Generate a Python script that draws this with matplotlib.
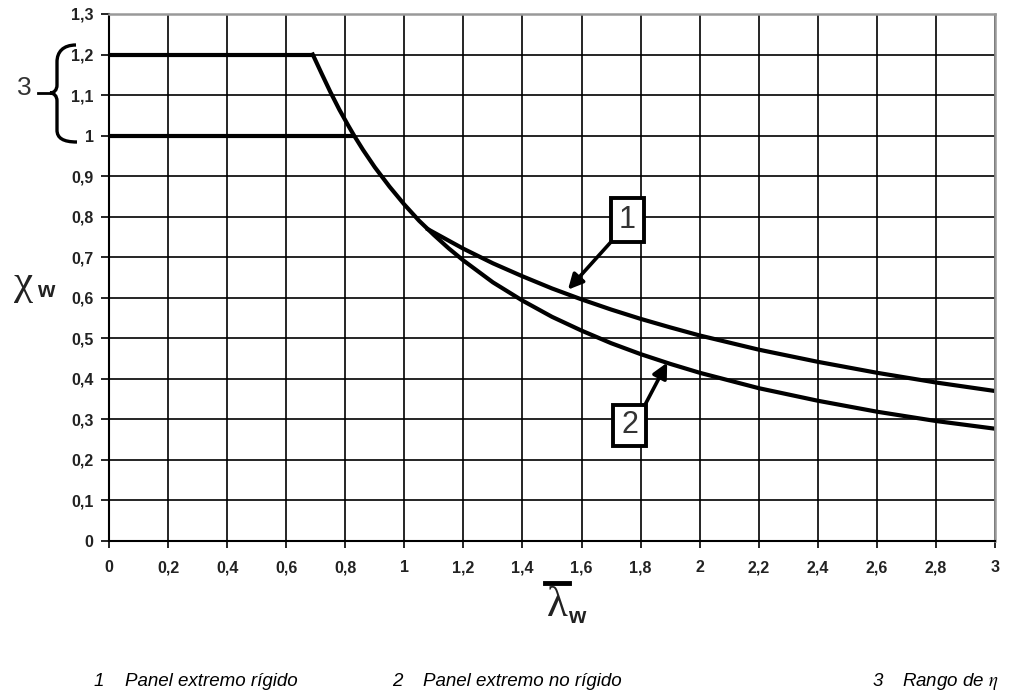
import matplotlib
matplotlib.use("Agg")
import matplotlib.pyplot as plt
from matplotlib.path import Path
from matplotlib.patches import PathPatch, Rectangle
from matplotlib.lines import Line2D

# ---- data ----
lam_eta = [0.0, 0.69]          # plateau chi = 1.2 (eta = 1.2)
chi_eta = [1.2, 1.2]
lam_one = [0.0, 0.83]          # plateau chi = 1.0
chi_one = [1.0, 1.0]

# curve 2: non-rigid end post
lam2 = [0.69, 0.72, 0.75, 0.78, 0.81, 0.83, 0.86, 0.90, 0.95, 1.00, 1.05, 1.10, 1.15,
        1.20, 1.30, 1.40, 1.50, 1.60, 1.70, 1.80, 1.90, 2.00, 2.20, 2.40, 2.60, 2.80, 3.00]
chi2 = [1.200, 1.153, 1.107, 1.064, 1.025, 1.000, 0.965, 0.922, 0.874, 0.830, 0.790, 0.755,
        0.722, 0.692, 0.638, 0.593, 0.553, 0.519, 0.488, 0.461, 0.437, 0.415, 0.377, 0.346,
        0.319, 0.296, 0.277]

# curve 1: rigid end post
lam1 = [1.08, 1.15, 1.20, 1.30, 1.40, 1.50, 1.60, 1.70, 1.80, 1.90, 2.00, 2.20, 2.40,
        2.60, 2.80, 3.00]
chi1 = [0.769, 0.741, 0.721, 0.685, 0.653, 0.623, 0.596, 0.571, 0.548, 0.527, 0.507,
        0.472, 0.442, 0.415, 0.391, 0.370]

xticks = [0, 0.2, 0.4, 0.6, 0.8, 1.0, 1.2, 1.4, 1.6, 1.8, 2.0, 2.2, 2.4, 2.6, 2.8, 3.0]
xticklabels = ["0", "0,2", "0,4", "0,6", "0,8", "1", "1,2", "1,4", "1,6", "1,8", "2",
               "2,2", "2,4", "2,6", "2,8", "3"]
yticks = [0, 0.1, 0.2, 0.3, 0.4, 0.5, 0.6, 0.7, 0.8, 0.9, 1.0, 1.1, 1.2, 1.3]
yticklabels = ["0", "0,1", "0,2", "0,3", "0,4", "0,5", "0,6", "0,7", "0,8", "0,9", "1",
               "1,1", "1,2", "1,3"]

legend_nums = ["1", "2", "3"]
legend_texts = ["Panel extremo rígido", "Panel extremo no rígido", r"Rango de $\eta$"]

W, H = 1026, 691
fig = plt.figure(figsize=(W / 100, H / 100), dpi=100)
plt.rcParams['font.family'] = ['Liberation Sans', 'DejaVu Sans']
plt.rcParams['mathtext.fontset'] = 'stix'


def px(x, y):
    return (x / W, 1 - y / H)


x0, x1, yb, yt = 109, 995, 541, 14
ax = fig.add_axes([x0 / W, 1 - yb / H, (x1 - x0) / W, (yb - yt) / H])
ax.set_xlim(0, 3)
ax.set_ylim(0, 1.3)

ax.set_xticks(xticks)
ax.set_xticklabels(xticklabels, fontsize=11.5, fontweight='bold', color='#222222')
ax.set_yticks(yticks)
ax.set_yticklabels(yticklabels, fontsize=11.5, fontweight='bold', color='#222222')
ax.tick_params(axis='x', direction='out', length=5, width=1.2, pad=9)
ax.tick_params(axis='y', direction='out', length=6, width=1.2, pad=5)
ax.grid(True, color='black', linewidth=1.2)
ax.set_axisbelow(True)
for s in ['left', 'bottom']:
    ax.spines[s].set_color('black')
    ax.spines[s].set_linewidth(1.5)
for s in ['right', 'top']:
    ax.spines[s].set_color('#999999')
    ax.spines[s].set_linewidth(1.8)

lw = 3.0
ax.plot(lam_eta, chi_eta, color='black', lw=lw, solid_capstyle='butt', clip_on=False)
ax.plot(lam_one, chi_one, color='black', lw=lw, solid_capstyle='butt', clip_on=False)
ax.plot(lam2, chi2, color='black', lw=lw, solid_joinstyle='round')
ax.plot(lam1, chi1, color='black', lw=lw, solid_joinstyle='round')

# label boxes with arrows
boxes = [((1.700, 0.738), (0.112, 0.109), "1", (1.70, 0.738), (1.554, 0.620)),
         ((1.707, 0.235), (0.112, 0.101), "2", (1.815, 0.336), (1.890, 0.440))]
for (bx, by), (bw, bh), lab, start, head in boxes:
    ax.add_patch(Rectangle((bx, by), bw, bh, facecolor='white', edgecolor='black',
                           lw=2.8, zorder=5))
    ax.text(bx + bw / 2, by + bh / 2, lab, fontsize=22, ha='center', va='center',
            color='#333333', zorder=6)
    ax.annotate('', xy=head, xytext=start,
                arrowprops=dict(arrowstyle='-|>,head_length=0.9,head_width=0.45',
                                color='black', lw=2.6, shrinkA=0, shrinkB=0), zorder=6)

# axis labels
fig.text(*px(24, 284), "χ", fontsize=31, family='Liberation Serif', ha='center',
         va='center', color='#222222')
fig.text(*px(37, 297), "w", fontsize=16, fontweight='bold', ha='left', va='baseline',
         color='#222222')
fig.text(*px(557, 606), "λ", fontsize=31, family='Liberation Serif', ha='center',
         va='center', color='#222222')
fig.add_artist(Line2D([545 / W, 569 / W], [1 - 583 / H, 1 - 583 / H], color='black',
                      lw=3.5, transform=fig.transFigure))
fig.text(*px(568, 623), "w", fontsize=16, fontweight='bold', ha='left', va='baseline',
         color='#222222')

# brace "3"
verts = [px(76, 45), px(63, 45), px(57, 52), px(57, 62),
         px(57, 85),
         px(57, 90), px(54, 93), px(50, 93),
         px(54, 93), px(57, 96), px(57, 101),
         px(57, 130),
         px(57, 138), px(63, 142), px(77, 142)]
codes = [Path.MOVETO, Path.CURVE4, Path.CURVE4, Path.CURVE4,
         Path.LINETO,
         Path.CURVE4, Path.CURVE4, Path.CURVE4,
         Path.CURVE4, Path.CURVE4, Path.CURVE4,
         Path.LINETO,
         Path.CURVE4, Path.CURVE4, Path.CURVE4]
fig.add_artist(PathPatch(Path(verts, codes), facecolor='none', edgecolor='black', lw=2.4,
                         transform=fig.transFigure))
fig.add_artist(Line2D([38 / W, 50 / W], [1 - 93 / H, 1 - 93 / H], color='black', lw=2.0,
                      transform=fig.transFigure))
fig.text(*px(24, 88), "3", fontsize=19, ha='center', va='center', color='#333333')

# bottom legend
num_x = [99, 397, 878]
txt_x = [125, 423, 902]
for n, t, nx, tx in zip(legend_nums, legend_texts, num_x, txt_x):
    fig.text(*px(nx, 681), n, fontsize=13.5, style='italic', ha='center', va='center')
    fig.text(*px(tx, 681), t, fontsize=13.5, style='italic', ha='left', va='center')

fig.savefig("out.png", dpi=100)
